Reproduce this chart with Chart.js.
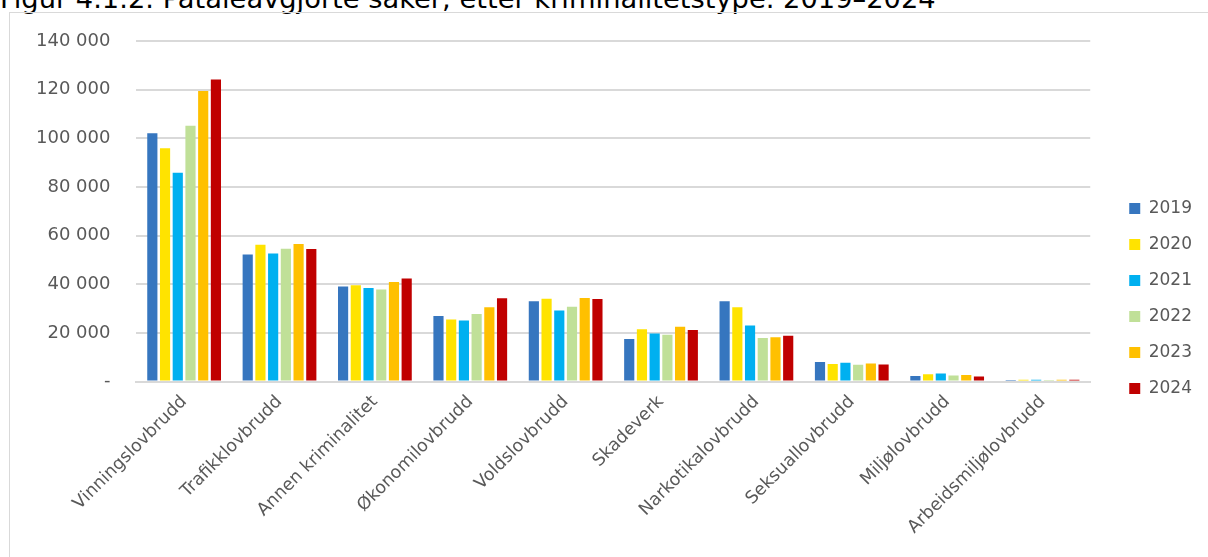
<!DOCTYPE html>
<html>
<head>
<meta charset="utf-8">
<script src="https://cdn.jsdelivr.net/npm/chart.js@4/dist/chart.umd.min.js"></script>
<style>
  html, body { margin: 0; padding: 0; background: #fff; overflow: hidden; }
  body { width: 1208px; height: 557px; position: relative; }
  #title {
    position: absolute; left: 0; top: -15px; white-space: nowrap; line-height: 27px;
    font-family: "DejaVu Sans", Verdana, sans-serif; font-size: 27.3px; color: #000;
  }
  #frame {
    position: absolute; left: 9px; top: 12px; width: 1210px; height: 560px;
    border: 1px solid #d9d9d9; box-sizing: border-box;
  }
  #wrap { position: absolute; left: 10px; top: 13px; width: 1198px; height: 544px; }
</style>
</head>
<body>
<div id="title">Figur 4.1.2. Påtaleavgjorte saker, etter kriminalitetstype. 2019–2024</div>
<div id="frame"></div>
<div id="wrap"><canvas id="myChart"></canvas></div>
<script>
// kategorier og verdier lest av figuren
const categories = ['Vinningslovbrudd', 'Trafikklovbrudd', 'Annen kriminalitet', 'Økonomilovbrudd',
  'Voldslovbrudd', 'Skadeverk', 'Narkotikalovbrudd', 'Seksuallovbrudd', 'Miljølovbrudd', 'Arbeidsmiljølovbrudd'];
const years = ['2019', '2020', '2021', '2022', '2023', '2024'];
const yearColors = ['#3676BF', '#FFE300', '#00B0F0', '#C0E098', '#FFC000', '#C00000'];

const v2019 = [102100, 52300, 39100, 27000, 33000, 17500, 33000, 8100, 2300, 700];
const v2020 = [95900, 56300, 39600, 25500, 34100, 21500, 30600, 7200, 3000, 800];
const v2021 = [85800, 52700, 38500, 25100, 29200, 19800, 23100, 7800, 3300, 800];
const v2022 = [105200, 54600, 37900, 27800, 30800, 19300, 17900, 6900, 2500, 700];
const v2023 = [119500, 56600, 40900, 30600, 34400, 22600, 18200, 7400, 2700, 800];
const v2024 = [124200, 54500, 42400, 34300, 34000, 21200, 18900, 7000, 2100, 800];
const seriesValues = [v2019, v2020, v2021, v2022, v2023, v2024];

const yMax = 140000;
const yStep = 20000;

const fmt = (v) => v === 0 ? '-' : v.toString().replace(/\B(?=(\d{3})+(?!\d))/g, ' ');
const font = '"DejaVu Sans", Verdana, sans-serif';

// flytt legenden litt til høyre og ned, som i Excel-figuren
const legendShift = {
  id: 'legendShift',
  afterLayout(chart) {
    chart.legend.left += 20;
    chart.legend.right += 20;
    chart.legend.top += 4;
    chart.legend.bottom += 4;
  }
};

const ctx = document.getElementById('myChart').getContext('2d');
const myChart = new Chart(ctx, {
  type: 'bar',
  data: {
    labels: categories,
    datasets: years.map((y, i) => ({
      label: y,
      data: seriesValues[i],
      backgroundColor: yearColors[i],
      borderWidth: 0,
      categoryPercentage: 0.8,
      barPercentage: 0.8
    }))
  },
  options: {
    responsive: true,
    maintainAspectRatio: false,
    animation: false,
    layout: { padding: { top: 28, right: 26, left: 0, bottom: 9 } },
    plugins: {
      tooltip: { enabled: false },
      legend: {
        position: 'right',
        align: 'center',
        labels: {
          boxWidth: 11,
          boxHeight: 11,
          padding: 19,
          color: '#595959',
          font: { family: font, size: 17 }
        }
      }
    },
    scales: {
      x: {
        grid: { display: false, drawTicks: false },
        border: { display: true, color: '#d9d9d9', width: 2 },
        ticks: {
          color: '#595959',
          maxRotation: 45,
          minRotation: 45,
          padding: 10,
          font: { family: font, size: 17.5 }
        },
        // ikke la de skrå etikettene presse plottet mot høyre
        afterFit: (scale) => { scale.paddingLeft = 0; }
      },
      y: {
        min: 0,
        max: yMax,
        grid: { color: '#d9d9d9', lineWidth: 2, drawTicks: false },
        border: { display: false },
        ticks: {
          stepSize: yStep,
          color: '#595959',
          padding: 26,
          font: { family: font, size: 18 },
          callback: (v) => fmt(v)
        },
        afterFit: (scale) => { scale.paddingTop = 0; scale.paddingBottom = 0; }
      }
    }
  },
  plugins: [legendShift]
});
</script>
</body>
</html>
